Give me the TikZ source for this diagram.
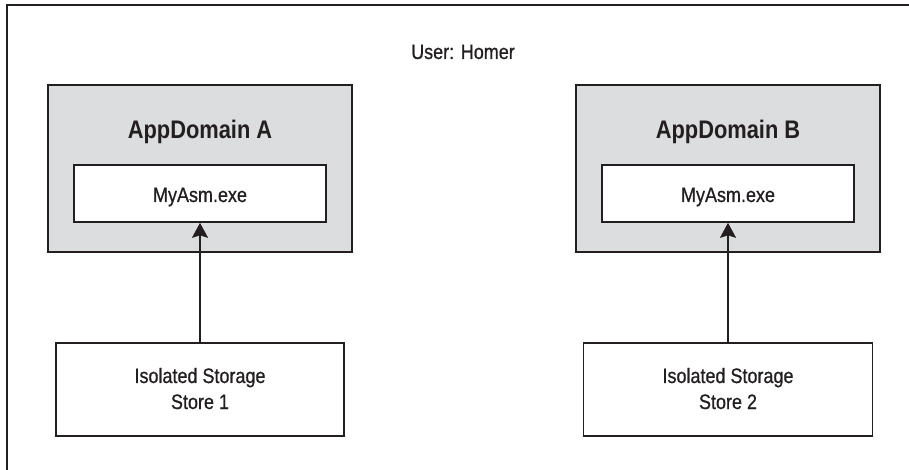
\documentclass[tikz,border=0pt]{standalone}
\usepackage{fontspec}
\setmainfont{Liberation Sans}[FakeStretch=0.86, UprightFeatures={FakeBold=0.7}]
\usetikzlibrary{arrows.meta}
\definecolor{ink}{RGB}{35,31,32}
\definecolor{domfill}{RGB}{220,221,222}
\tikzset{
  domainbox/.style={draw=ink, line width=1.6bp, fill=domfill, inner sep=0pt},
  asmbox/.style={draw=ink, line width=1.6bp, fill=white, inner sep=0pt},
  storebox/.style={draw=ink, line width=1.6bp, fill=white, inner sep=0pt},
  lbl/.style={text=ink, inner sep=0pt, anchor=base, font=\fontsize{21}{26}\selectfont},
  domlbl/.style={text=ink, inner sep=0pt, anchor=base, font=\fontsize{25.5}{28}\selectfont\bfseries},
  conn/.style={draw=ink, line width=1.8bp, -{Stealth[length=15bp,width=16bp,inset=2.5bp]}}
}
\begin{document}
\begin{tikzpicture}[x=1bp,y=-1bp]
\useasboundingbox (0,0) rectangle (909,470);
% open frame
\draw[ink, line width=2bp] (7,470) -- (7,5) -- (909,5);
\node[lbl] (user) at (463,59) {User: Homer};
% domain A
\node[domainbox, minimum width=304bp, minimum height=167bp] (domA) at (200,168.5) {};
\node[domlbl] (domAl) at (200,139) {AppDomain A};
\node[asmbox, minimum width=252bp, minimum height=57bp] (asmA) at (200,193.5) {};
\node[lbl] (asmAl) at (200,202) {MyAsm.exe};
% domain B
\node[domainbox, minimum width=304bp, minimum height=167bp] (domB) at (728,168.5) {};
\node[domlbl] (domBl) at (728,139) {AppDomain B};
\node[asmbox, minimum width=252bp, minimum height=57bp] (asmB) at (728,193.5) {};
\node[lbl] (asmBl) at (728,202) {MyAsm.exe};
% stores
\node[storebox, minimum width=288bp, minimum height=93bp] (st1) at (200,389.5) {};
\node[lbl] (st1a) at (200,383) {Isolated Storage};
\node[lbl] (st1b) at (200,409) {Store 1};
\node[storebox, minimum width=289bp, minimum height=93bp] (st2) at (728,389.5) {};
\node[lbl] (st2a) at (728,383) {Isolated Storage};
\node[lbl] (st2b) at (728,409) {Store 2};
% connectors
\draw[conn] (st1.north) -- (asmA.south);
\draw[conn] (st2.north) -- (asmB.south);
\end{tikzpicture}
\end{document}
